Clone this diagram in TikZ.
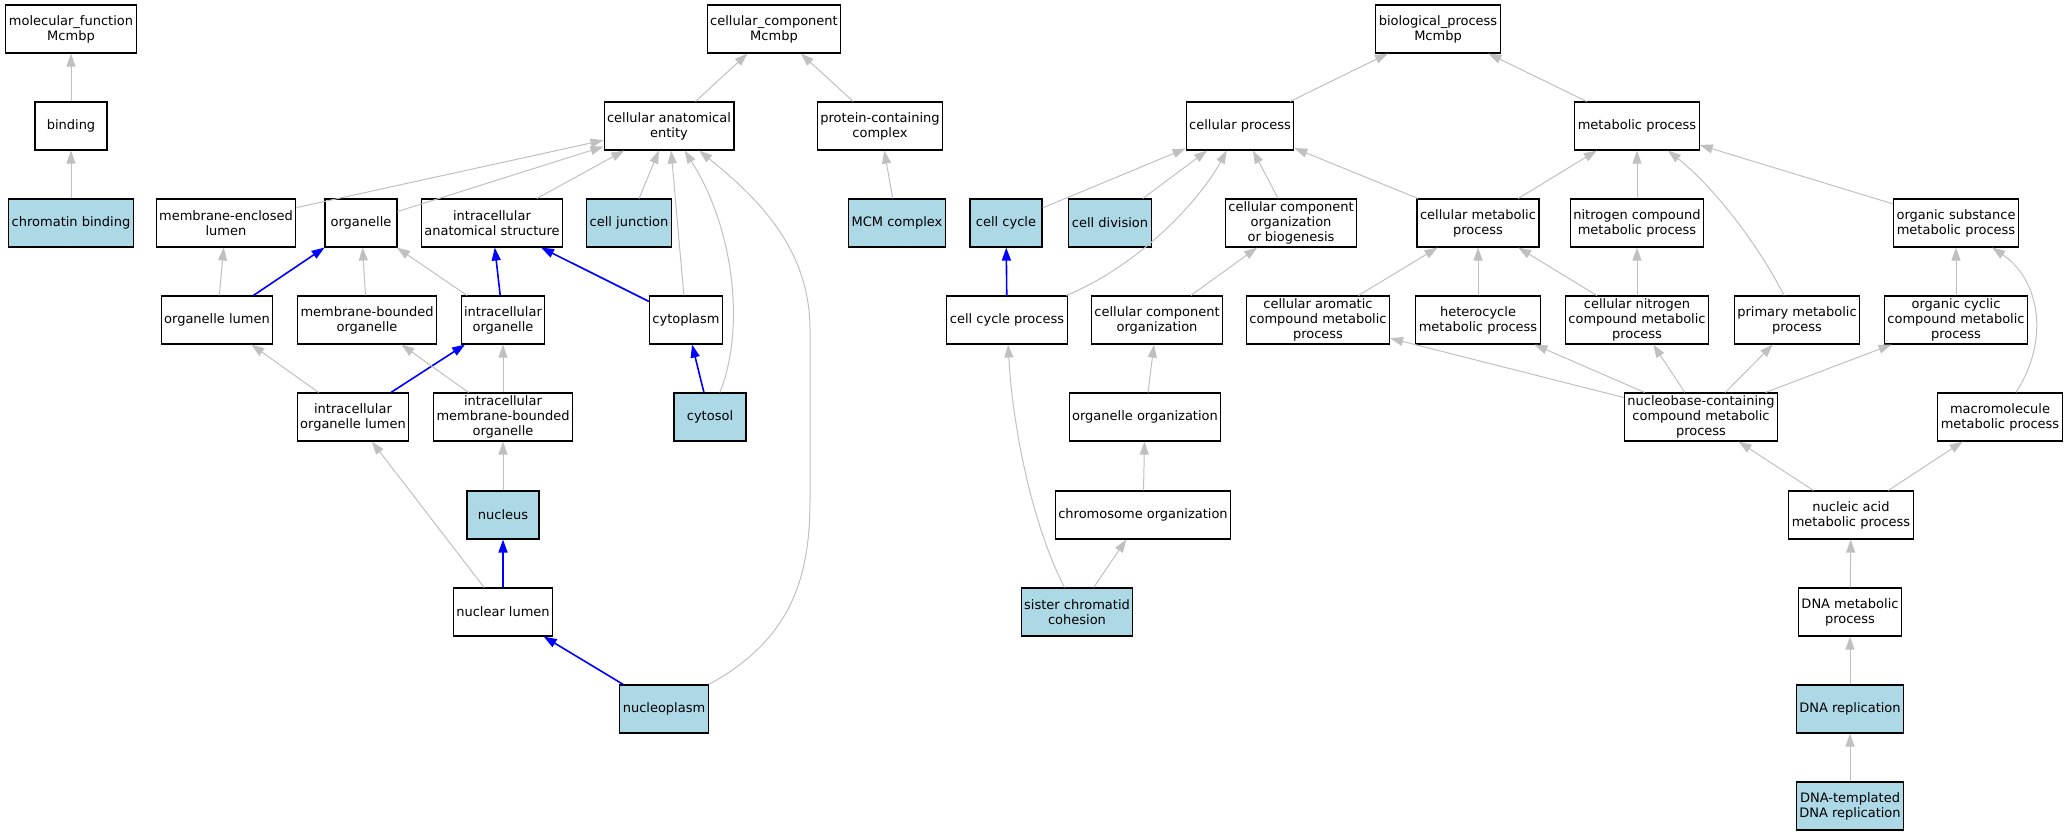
\documentclass[tikz,border=0pt]{standalone}
\usepackage{fontspec}
\setmainfont{DejaVu Sans}
\usetikzlibrary{arrows.meta}
\definecolor{edgegray}{HTML}{C0C0C0}
\definecolor{hitblue}{HTML}{ADD8E6}

\begin{document}
\begin{tikzpicture}[x=1pt,y=-1pt,
		term/.style={draw=black,line width=1.1pt,rectangle,fill=white,align=center,minimum width=72pt,minimum height=48pt,inner xsep=3pt,inner ysep=1pt,font=\fontsize{13}{15}\selectfont},
		hit/.style={term,fill=hitblue},
		isa/.style={draw=edgegray,line width=1pt,-{Triangle[length=13pt,width=9pt]}},
		partof/.style={draw=blue,line width=1.6pt,-{Triangle[length=13pt,width=9pt]}}]
			\useasboundingbox (0,0) rectangle (2064,835);
			% row 0
			\node (mf) [term] at (71,29){molecular\_function\\Mcmbp};
			\node (cc) [term] at (774,29){cellular\_component\\Mcmbp};
			\node (bp) [term] at (1438,29){biological\_process\\Mcmbp};
			% row 1
			\node (bind) [term] at (71,126){binding};
			\node (cae) [term] at (669,126){cellular anatomical\\entity};
			\node (pcc) [term] at (880,126){protein-containing\\complex};
			\node (cp) [term] at (1240,126){cellular process};
			\node (mp) [term] at (1637,126){metabolic process};
			% row 2
			\node (chb) [hit] at (71,223){chromatin binding};
			\node (mel) [term] at (226,223){membrane-enclosed\\lumen};
			\node (org) [term] at (361,223){organelle};
			\node (ias) [term] at (492,223){intracellular\\anatomical structure};
			\node (cj) [hit] at (629,223){cell junction};
			\node (mcm) [hit] at (897,223){MCM complex};
			\node (cyc) [hit] at (1006,223){cell cycle};
			\node (cdv) [hit] at (1110,223){cell division};
			\node (ccob) [term] at (1291,223){cellular component\\organization\\or biogenesis};
			\node (cmp) [term] at (1478,223){cellular metabolic\\process};
			\node (ncmp) [term] at (1637,223){nitrogen compound\\metabolic process};
			\node (osmp) [term] at (1956,223){organic substance\\metabolic process};
			% row 3
			\node (ol) [term] at (217,320){organelle lumen};
			\node (mbo) [term] at (367,320){membrane-bounded\\organelle};
			\node (io) [term] at (503,320){intracellular\\organelle};
			\node (cyt) [term] at (686,320){cytoplasm};
			\node (ccp) [term] at (1007,320){cell cycle process};
			\node (cco) [term] at (1157,320){cellular component\\organization};
			\node (camp) [term] at (1318,320){cellular aromatic\\compound metabolic\\process};
			\node (hmp) [term] at (1478,320){heterocycle\\metabolic process};
			\node (cnmp) [term] at (1637,320){cellular nitrogen\\compound metabolic\\process};
			\node (pmp) [term] at (1797,320){primary metabolic\\process};
			\node (ocmp) [term] at (1956,320){organic cyclic\\compound metabolic\\process};
			% row 4
			\node (iol) [term] at (353,417){intracellular\\organelle lumen};
			\node (imbo) [term] at (503,417){intracellular\\membrane-bounded\\organelle};
			\node (csol) [hit] at (710,417){cytosol};
			\node (oorg) [term] at (1145,417){organelle organization};
			\node (nbmp) [term] at (1701,417){nucleobase-containing\\compound metabolic\\process};
			\node (mmp) [term] at (2000,417){macromolecule\\metabolic process};
			% rows 5 to 8
			\node (nuc) [hit] at (503,515){nucleus};
			\node (chro) [term] at (1143,515){chromosome organization};
			\node (namp) [term] at (1851,515){nucleic acid\\metabolic process};
			\node (nl) [term] at (503,612){nuclear lumen};
			\node (scc) [hit] at (1077,612){sister chromatid\\cohesion};
			\node (dmp) [term] at (1850,612){DNA metabolic\\process};
			\node (npl) [hit] at (664,709){nucleoplasm};
			\node (dr) [hit] at (1850,709){DNA replication};
			\node (dtr) [hit] at (1850,806){DNA-templated\\DNA replication};
			
			% molecular function
			\draw[isa] (bind)--(mf);
			\draw[isa] (chb)--(bind);
			% cellular component
			\draw[isa] (cae)--(cc);
			\draw[isa] (pcc)--(cc);
			\draw[isa] (mcm)--(pcc);
			\draw[isa] (mel)--(cae);
			\draw[isa] (org)--(cae);
			\draw[isa] (ias)--(cae);
			\draw[isa] (cj)--(cae);
			\draw[isa] (cyt)--(cae);
			\draw[isa] (csol) .. controls (745,330) and (735,230) .. (cae);
			\draw[isa] (npl) .. controls (790,640) and (810,580) .. (810,500) -- (810,330) .. controls (810,250) and (760,200) .. (cae);
			\draw[isa] (ol)--(mel);
			\draw[partof] (ol)--(org);
			\draw[isa] (mbo)--(org);
			\draw[isa] (io)--(org);
			\draw[partof] (io)--(ias);
			\draw[partof] (cyt)--(ias);
			\draw[partof] (csol)--(cyt);
			\draw[isa] (iol)--(ol);
			\draw[partof] (iol)--(io);
			\draw[isa] (imbo)--(mbo);
			\draw[isa] (imbo)--(io);
			\draw[isa] (nuc)--(imbo);
			\draw[isa] (nl)--(iol);
			\draw[partof] (nl)--(nuc);
			\draw[partof] (npl)--(nl);
			% biological process
			\draw[isa] (cp)--(bp);
			\draw[isa] (mp)--(bp);
			\draw[isa] (cyc)--(cp);
			\draw[isa] (cdv)--(cp);
			\draw[isa] (ccob)--(cp);
			\draw[isa] (cmp)--(cp);
			\draw[isa] (ccp) .. controls (1140,265) and (1200,200) .. (cp);
			\draw[isa] (cmp)--(mp);
			\draw[isa] (ncmp)--(mp);
			\draw[isa] (pmp) .. controls (1750,230) and (1705,180) .. (mp);
			\draw[isa] (osmp)--(mp);
			\draw[partof] (ccp)--(cyc);
			\draw[isa] (cco)--(ccob);
			\draw[isa] (camp)--(cmp);
			\draw[isa] (hmp)--(cmp);
			\draw[isa] (cnmp)--(cmp);
			\draw[isa] (cnmp)--(ncmp);
			\draw[isa] (ocmp)--(osmp);
			\draw[isa] (mmp) .. controls (2050,340) and (2040,280) .. (osmp);
			\draw[isa] (oorg)--(cco);
			\draw[isa] (nbmp)--(camp);
			\draw[isa] (nbmp)--(hmp);
			\draw[isa] (nbmp)--(cnmp);
			\draw[isa] (nbmp)--(pmp);
			\draw[isa] (nbmp)--(ocmp);
			\draw[isa] (chro)--(oorg);
			\draw[isa] (scc)--(chro);
			\draw[isa] (scc) .. controls (1030,520) and (1012,420) .. (ccp);
			\draw[isa] (namp)--(nbmp);
			\draw[isa] (namp)--(mmp);
			\draw[isa] (dmp)--(namp);
			\draw[isa] (dr)--(dmp);
			\draw[isa] (dtr)--(dr);
		\end{tikzpicture}
\end{document}
